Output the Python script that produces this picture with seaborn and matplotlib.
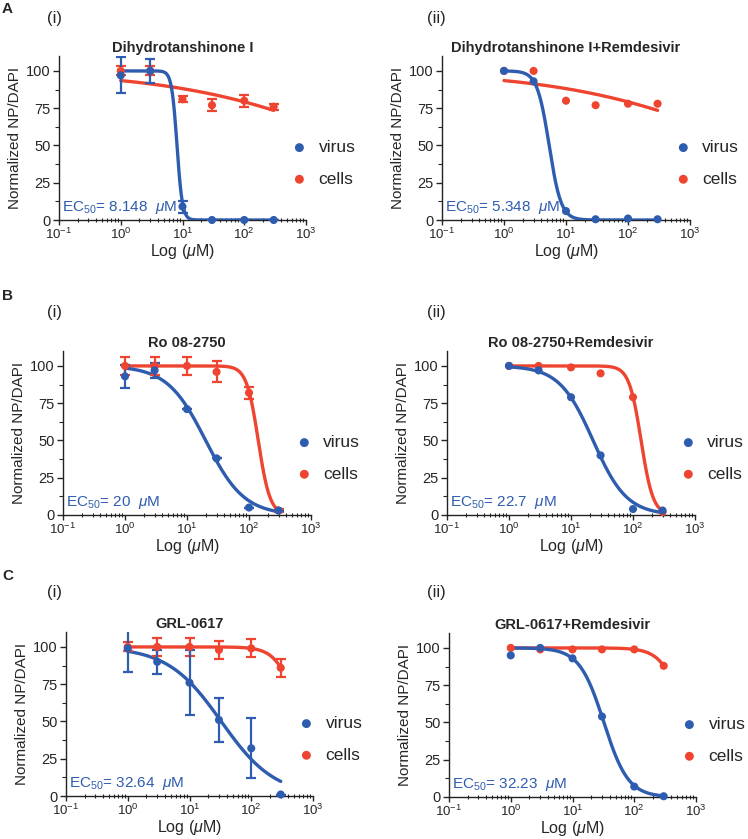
import numpy as np
import pandas as pd
import matplotlib
matplotlib.use("Agg")
import matplotlib.pyplot as plt
import matplotlib.ticker as mticker
import seaborn as sns

sns.set_style("ticks")
plt.rcParams["font.family"] = ["Liberation Sans", "DejaVu Sans"]
plt.rcParams["mathtext.fontset"] = "custom"
plt.rcParams["mathtext.rm"] = "Liberation Sans"
plt.rcParams["mathtext.it"] = "Liberation Sans:italic"
plt.rcParams["mathtext.bf"] = "Liberation Sans:bold"

BLUE = "#2E5CAE"
RED = "#EE4430"

# ---------------- data ----------------
conc = [1, 3, 10, 30, 100, 300]

titles = ["Dihydrotanshinone I", "Dihydrotanshinone I+Remdesivir",
          "Ro 08-2750", "Ro 08-2750+Remdesivir",
          "GRL-0617", "GRL-0617+Remdesivir"]
ec50_labels = ["8.148", "5.348", "20", "22.7", "32.64", "32.23"]
panel_letters = ["A", "", "B", "", "C", ""]
sub_labels = ["(i)", "(ii)", "(i)", "(ii)", "(i)", "(ii)"]

virus_A1 = [97, 100, 9, 0, 0, 0]
virus_A1_err = [12, 8, 4, 0, 0, 0]
cells_A1 = [100, 100, 81, 77, 80, 76]
cells_A1_err = [3, 3, 2, 4, 4, 2]

virus_A2 = [100, 93, 6, 0.5, 1, 0.5]
cells_A2 = [100, 100, 80, 77, 78, 78]

virus_B1 = [93, 97, 71, 38, 5, 3]
virus_B1_err = [7.5, 5, 0, 0, 0, 0]
cells_B1 = [100, 100, 100, 96, 82, 3]
cells_B1_err = [6, 6, 6, 7, 4, 1]

virus_B2 = [100, 97, 79, 40, 4, 3]
cells_B2 = [100, 100, 99, 95, 79, 2]

virus_C1 = [99, 90, 76, 51, 32, 1]
virus_C1_err = [16, 8, 22, 15, 20, 0]
cells_C1 = [100, 100, 100, 98, 99, 86]
cells_C1_err = [3, 6, 6, 6, 6, 6]

virus_C2 = [95, 100, 93, 54, 7, 0.5]
cells_C2 = [100, 99, 99, 99, 99, 88]

# fitted 4PL curve parameters: (top, bottom, EC50, hill slope)
virus_fit = [(100, 0, 8.148, 10), (100, 0, 5.348, 4.5), (100, 0, 20, 1.4),
             (100, 0, 22.7, 1.6), (100, 0, 32.64, 1.0), (100, 0, 32.23, 2.2)]
cells_fit = [(100, 0, 10300, 0.289), (100, 0, 10300, 0.289), (100, 0, 141, 4.6),
             (100, 0, 135, 4.5), (100, 0, 616, 2.52), (100, 0, 696, 2.37)]

virus_vals = [virus_A1, virus_A2, virus_B1, virus_B2, virus_C1, virus_C2]
virus_errs = [virus_A1_err, None, virus_B1_err, None, virus_C1_err, None]
cells_vals = [cells_A1, cells_A2, cells_B1, cells_B2, cells_C1, cells_C2]
cells_errs = [cells_A1_err, None, cells_B1_err, None, cells_C1_err, None]

# ---------------- layout (pixels) ----------------
W, H = 748, 839
fig = plt.figure(figsize=(W / 100, H / 100), dpi=100)
boxes = [(59, 306, 56, 220), (442, 690, 56, 220),
         (63, 311, 351, 515), (447, 695, 351, 515),
         (66, 313, 632, 796), (449, 696, 633, 797)]
letter_pos = [(2, 9), None, (2, 296), None, (2, 576), None]
sub_pos = [(47, 18), (427, 18), (47, 312), (427, 312), (47, 593), (427, 593)]


def hill(x, p):
    top, bottom, ec, h = p
    return bottom + (top - bottom) / (1 + (x / ec) ** h)


xfit = np.geomspace(1, 300, 300)

for i in range(6):
    l, r, t, b = boxes[i]
    ax = fig.add_axes([l / W, 1 - b / H, (r - l) / W, (b - t) / H])
    ax.set_xscale("log")

    for vals, errs, fitp, col, name in [
        (cells_vals[i], cells_errs[i], cells_fit[i], RED, "cells"),
        (virus_vals[i], virus_errs[i], virus_fit[i], BLUE, "virus"),
    ]:
        fitdf = pd.DataFrame({"x": xfit, "y": hill(xfit, fitp)})
        sns.lineplot(data=fitdf, x="x", y="y", ax=ax, color=col, lw=2.4,
                     legend=False, zorder=3)
        if errs is not None:
            ax.errorbar(conc, vals, yerr=errs, fmt="none", ecolor=col,
                        elinewidth=1.6, capsize=3.5, capthick=1.6, zorder=4,
                        clip_on=True)
        df = pd.DataFrame({"x": conc, "y": vals})
        sns.scatterplot(data=df, x="x", y="y", ax=ax, color=col, s=34,
                        edgecolor="none", zorder=5, clip_on=False, label=name)

    ax.set_xlim(0.1, 1000)
    ax.set_ylim(0, 110)
    ax.set_yticks([0, 25, 50, 75, 100])
    ax.yaxis.set_minor_locator(mticker.MultipleLocator(12.5))
    ax.set_xticks([0.1, 1, 10, 100, 1000])
    ax.set_xticklabels([r"10$^{-1}$", r"10$^{0}$", r"10$^{1}$", r"10$^{2}$", r"10$^{3}$"])
    ax.xaxis.set_minor_locator(mticker.LogLocator(base=10, subs=np.arange(2, 10)))
    ax.xaxis.set_minor_formatter(mticker.NullFormatter())
    ax.tick_params(axis="x", which="major", direction="out", length=3.5, width=1,
                   labelsize=9.5, pad=1.5)
    ax.tick_params(axis="x", which="minor", direction="inout", length=3, width=0.8)
    ax.tick_params(axis="y", which="major", direction="out", length=4, width=1,
                   labelsize=10.5, pad=2)
    ax.tick_params(axis="y", which="minor", direction="out", length=3, width=0.8)
    for s in ["top", "right"]:
        ax.spines[s].set_visible(False)
    for s in ["left", "bottom"]:
        ax.spines[s].set_linewidth(1)
        ax.spines[s].set_color("#222222")

    ax.set_xlabel(r"Log ($\mu$M)", fontsize=11.5, labelpad=0)
    ax.set_ylabel("Normalized NP/DAPI", fontsize=11, labelpad=3)
    ax.set_title(titles[i], fontsize=10.5, fontweight="bold", pad=3)

    ax.text(0.012, 0.075, r"EC$_{50}$= " + ec50_labels[i] + r"  $\mu$M",
            transform=ax.transAxes, color=BLUE, fontsize=11, va="center",
            ha="left", zorder=6)

    handles, labels = ax.get_legend_handles_labels()
    order = [labels.index("virus"), labels.index("cells")]
    ax.legend([handles[k] for k in order], [labels[k] for k in order],
              loc="center left", bbox_to_anchor=(0.91, 0.345),
              frameon=False, fontsize=12.5, handletextpad=0.6,
              labelspacing=0.95, borderaxespad=0, handlelength=1.0,
              markerscale=1.1)

    if letter_pos[i] is not None:
        fig.text(letter_pos[i][0] / W, 1 - letter_pos[i][1] / H, panel_letters[i],
                 fontsize=11, fontweight="bold", va="center", ha="left")
    fig.text(sub_pos[i][0] / W, 1 - sub_pos[i][1] / H, sub_labels[i],
             fontsize=12, va="center", ha="left")

fig.savefig("out.png", dpi=100)
